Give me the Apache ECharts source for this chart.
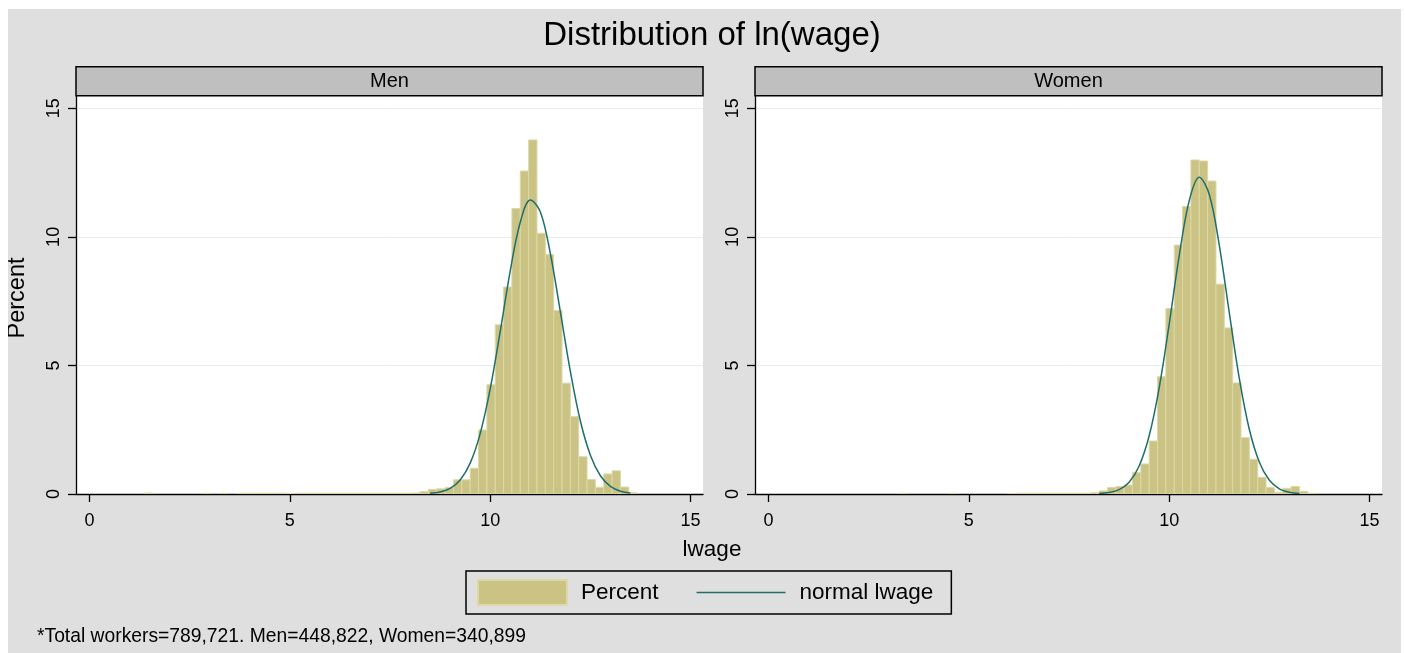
<!DOCTYPE html>
<html><head><meta charset="utf-8">
<script src="https://cdn.jsdelivr.net/npm/echarts@6/dist/echarts.min.js"></script>
<style>
html,body{margin:0;padding:0;background:#fff;width:1405px;height:653px;overflow:hidden}
#c{position:absolute;left:8px;top:9px;width:1393px;height:644px}
</style></head><body><div id="c"></div>
<script>
// ---- data ----
const panels = ['Men', 'Women'];
const binStart = 1.377;   // left edge of the first histogram bin (lwage)
const binWidth = 0.2083;  // common bin width (lwage)
const menPercent = [
  0.04, 0, 0, 0, 0, 0, 0, 0.03, 0, 0.03,
  0, 0.03, 0.03, 0.03, 0.03, 0.03, 0.03, 0.01, 0.03, 0.03,
  0.03, 0.03, 0.03, 0.03, 0.03, 0.03, 0.03, 0.03, 0.03, 0.03,
  0.03, 0.03, 0.04, 0.09, 0.18, 0.2, 0.25, 0.55, 0.55, 1.0,
  2.49, 4.25, 6.58, 8.05, 11.1, 12.56, 13.77, 10.14, 9.31, 7.14,
  4.31, 3.01, 1.45, 0.56, 0.26, 0.78, 0.9, 0.27, 0.05
];
const womenPercent = [
  0, 0, 0, 0, 0, 0, 0, 0, 0, 0.03,
  0, 0, 0, 0, 0, 0.03, 0, 0, 0, 0,
  0, 0, 0.02, 0.03, 0.03, 0.03, 0.03, 0.03, 0.03, 0.03,
  0.03, 0.03, 0.05, 0.12, 0.25, 0.29, 0.35, 0.84, 1.17, 2.06,
  4.56, 7.21, 9.68, 11.18, 12.99, 12.95, 12.17, 8.16, 6.46, 4.32,
  2.19, 1.35, 0.65, 0.25, 0.06, 0.22, 0.29, 0.1, 0.03
];
const menCurveX = [8.5, 8.75, 9, 9.25, 9.5, 9.75, 10, 10.25, 10.5, 10.75, 11, 11.25, 11.5, 11.75, 12, 12.25, 12.5, 12.75, 13, 13.25, 13.5];
const menCurveY = [0.025, 0.078, 0.218, 0.543, 1.2, 2.35, 4.09, 6.32, 8.68, 10.57, 11.43, 10.98, 9.36, 7.09, 4.77, 2.84, 1.51, 0.709, 0.296, 0.11, 0.036];
const womenCurveX = [8.25, 8.5, 8.75, 9, 9.25, 9.5, 9.75, 10, 10.25, 10.5, 10.75, 11, 11.25, 11.5, 11.75, 12, 12.25, 12.5, 12.75, 13, 13.25];
const womenCurveY = [0.016, 0.055, 0.17, 0.459, 1.088, 2.264, 4.13, 6.61, 9.27, 11.41, 12.32, 11.65, 9.67, 7.04, 4.49, 2.51, 1.236, 0.532, 0.201, 0.066, 0.019];
const xTicks = [0, 5, 10, 15];
const yTicks = [0, 5, 10, 15];
const titleText = 'Distribution of ln(wage)';
const xTitle = 'lwage';
const yTitle = 'Percent';
const barName = 'Percent';
const lineName = 'normal lwage';
const note = '*Total workers=789,721. Men=448,822, Women=340,899';

// ---- style ----
const FONT = '"Liberation Sans", Arial, sans-serif';
const BAR = '#cac383';
const BAR_EDGE = '#dcd8a8';
const LINE = '#1f6e6b';
const GRID = '#e3eef0';

const gridLefts = [68, 747];
const gridTop = 86.7, gridW = 627, gridH = 398.3;

function barsData(vals) {
  return vals.map((v, i) => [binStart + i * binWidth, binStart + (i + 1) * binWidth, v]);
}
function curveData(xs, ys) { return xs.map((x, i) => [x, ys[i]]); }

function renderBar(params, api) {
  const h = api.value(2);
  if (!h) return null;
  const p0 = api.coord([api.value(0), h]);
  const p1 = api.coord([api.value(1), 0]);
  return {
    type: 'rect',
    shape: { x: p0[0], y: p0[1], width: p1[0] - p0[0], height: p1[1] - p0[1] },
    style: { fill: BAR, stroke: BAR_EDGE, lineWidth: 1 }
  };
}

const grids = [], xAxes = [], yAxes = [], series = [], graphics = [];
const allBars = [menPercent, womenPercent];
const allCurves = [[menCurveX, menCurveY], [womenCurveX, womenCurveY]];
panels.forEach((p, k) => {
  grids.push({ left: gridLefts[k], top: gridTop, width: gridW, height: gridH, show: true, backgroundColor: '#fff', borderWidth: 0 });
  xAxes.push({
    type: 'value', gridIndex: k, min: -0.336, max: 15.31,
    axisLine: { show: true, onZero: false, lineStyle: { color: '#000', width: 1.3 } },
    axisTick: { show: true, length: 8, customValues: xTicks, lineStyle: { color: '#000', width: 1.3 } },
    axisLabel: { customValues: xTicks, margin: 18, fontSize: 18, color: '#000', fontFamily: FONT },
    splitLine: { show: false }
  });
  yAxes.push({
    type: 'value', gridIndex: k, min: 0, max: 15.49, interval: 5,
    axisLine: { show: true, onZero: false, lineStyle: { color: '#000', width: 1.3 } },
    axisTick: { show: true, length: 8, customValues: yTicks, lineStyle: { color: '#000', width: 1.3 } },
    axisLabel: { customValues: yTicks, rotate: 90, margin: 13, fontSize: 18, color: '#000', fontFamily: FONT },
    splitLine: { show: true, lineStyle: { color: GRID, width: 1 } }
  });
  series.push({
    type: 'custom', name: barName, xAxisIndex: k, yAxisIndex: k,
    renderItem: renderBar, encode: { x: [0, 1], y: 2 }, clip: true,
    itemStyle: { color: BAR }, data: barsData(allBars[k]), z: 2
  });
  series.push({
    type: 'line', name: lineName, xAxisIndex: k, yAxisIndex: k,
    data: curveData(allCurves[k][0], allCurves[k][1]), smooth: 0.35, symbol: 'none',
    lineStyle: { color: LINE, width: 1.5 }, itemStyle: { color: LINE }, z: 3
  });
  // panel strip
  graphics.push({
    type: 'rect', shape: { x: gridLefts[k], y: 57.7, width: gridW, height: 29 },
    style: { fill: '#bfbfbf', stroke: '#000', lineWidth: 1.5 }, z: 10
  });
  graphics.push({
    type: 'text', x: gridLefts[k] + gridW / 2, y: 72.5, z: 11,
    style: { text: p, font: '20px ' + FONT, fill: '#000', textAlign: 'center', textVerticalAlign: 'middle' }
  });
});

graphics.push({ type: 'text', x: 704, y: 27, z: 11,
  style: { text: titleText, font: '33px ' + FONT, fill: '#000', textAlign: 'center', textVerticalAlign: 'middle' } });
graphics.push({ type: 'text', x: 704, y: 541, z: 11,
  style: { text: xTitle, font: '22.5px ' + FONT, fill: '#000', textAlign: 'center', textVerticalAlign: 'middle' } });
graphics.push({ type: 'text', x: 10, y: 289, rotation: Math.PI / 2, z: 11,
  style: { text: yTitle, font: '23.5px ' + FONT, fill: '#000', textAlign: 'center', textVerticalAlign: 'middle' } });
graphics.push({ type: 'text', x: 29, y: 627.5, z: 11,
  style: { text: note, font: '19.3px ' + FONT, fill: '#000', textAlign: 'left', textVerticalAlign: 'middle' } });

const chart = echarts.init(document.getElementById('c'), null, { renderer: 'canvas' });
chart.setOption({
  backgroundColor: '#dfdfdf',
  animation: false,
  grid: grids, xAxis: xAxes, yAxis: yAxes, series: series,
  graphic: graphics,
  legend: {
    left: 458, top: 562, orient: 'horizontal', selectedMode: false,
    backgroundColor: '#dfdfdf', borderColor: '#000', borderWidth: 1.5,
    padding: [8, 18, 8, 11], itemGap: 38, itemWidth: 89, itemHeight: 25,
    textStyle: { fontSize: 22.5, color: '#000', fontFamily: FONT, padding: [0, 0, 0, 9] },
    data: [
      { name: barName, icon: 'rect', itemStyle: { color: BAR, borderColor: BAR_EDGE, borderWidth: 2 } },
      { name: lineName, icon: 'path://M0,0H89V1.6H0Z', itemStyle: { color: LINE, borderWidth: 0 } }
    ]
  }
});
</script></body></html>
